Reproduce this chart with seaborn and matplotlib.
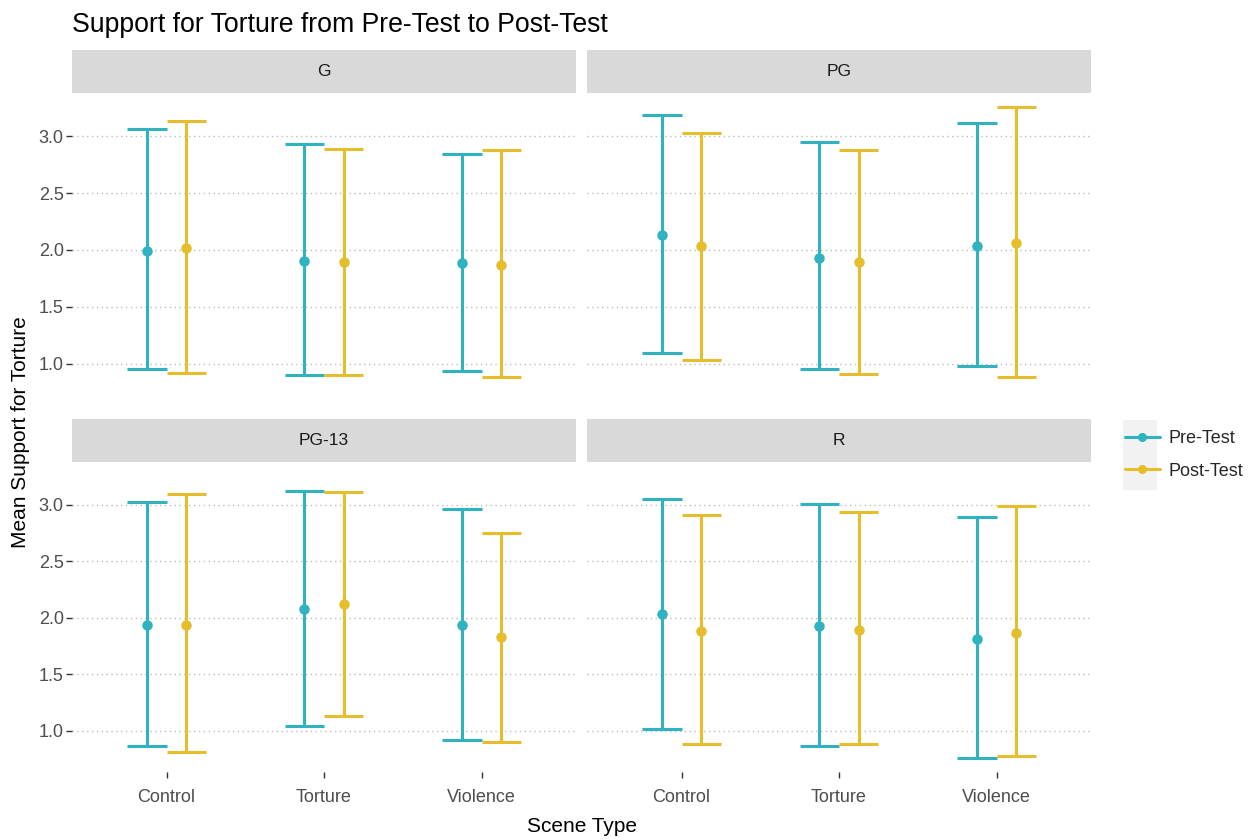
import numpy as np
import pandas as pd
import matplotlib
matplotlib.use("Agg")
import matplotlib.pyplot as plt
import seaborn as sns
from matplotlib.lines import Line2D
from matplotlib.patches import Rectangle

ratings = ["G", "PG", "PG-13", "R"]
scenes = ["Control", "Torture", "Violence"]
tests = ["Pre-Test", "Post-Test"]

pre_mean = [[1.99, 1.90, 1.88], [2.13, 1.93, 2.03], [1.94, 2.08, 1.94], [2.03, 1.93, 1.81]]
pre_low = [[0.95, 0.90, 0.935], [1.09, 0.95, 0.98], [0.866, 1.04, 0.92], [1.015, 0.865, 0.76]]
pre_high = [[3.06, 2.935, 2.84], [3.19, 2.95, 3.12], [3.03, 3.125, 2.96], [3.05, 3.005, 2.895]]
post_mean = [[2.02, 1.89, 1.87], [2.03, 1.89, 2.06], [1.94, 2.12, 1.83], [1.88, 1.895, 1.87]]
post_low = [[0.92, 0.90, 0.88], [1.035, 0.91, 0.88], [0.81, 1.13, 0.90], [0.88, 0.88, 0.78]]
post_high = [[3.13, 2.89, 2.88], [3.03, 2.88, 3.255], [3.10, 3.11, 2.755], [2.91, 2.935, 2.99]]

colors = {"Pre-Test": "#2FB3C1", "Post-Test": "#E6BE2B"}

rows = []
for ri, r in enumerate(ratings):
    for si, s in enumerate(scenes):
        rows.append((r, s, "Pre-Test", pre_mean[ri][si], pre_low[ri][si], pre_high[ri][si]))
        rows.append((r, s, "Post-Test", post_mean[ri][si], post_low[ri][si], post_high[ri][si]))
df = pd.DataFrame(rows, columns=["rating", "scene", "test", "mean", "low", "high"])

sns.set_theme(style="white")
plt.rcParams["font.family"] = ["Liberation Sans", "DejaVu Sans"]

DODGE = 0.25
CAP = 0.125


def draw(data, color=None, label=None, **kws):
    ax = plt.gca()
    for i, t in enumerate(tests):
        sub = data[data["test"] == t].set_index("scene").loc[scenes]
        x = np.arange(len(scenes)) + (i - 0.5) * DODGE
        c = colors[t]
        ax.vlines(x, sub["low"], sub["high"], color=c, lw=2.2, zorder=2)
        ax.hlines(sub["low"], x - CAP, x + CAP, color=c, lw=2.2, zorder=2)
        ax.hlines(sub["high"], x - CAP, x + CAP, color=c, lw=2.2, zorder=2)
    sns.pointplot(data=data, x="scene", y="mean", hue="test", order=scenes,
                  hue_order=tests, palette=colors, dodge=DODGE, linestyle="none",
                  errorbar=None, markers="o", markersize=5.5, ax=ax, legend=False,
                  zorder=3)


g = sns.FacetGrid(df, col="rating", col_order=ratings, col_wrap=2,
                  sharex=True, sharey=True, height=3, aspect=1.6)
g.map_dataframe(draw)
fig = g.figure
fig.set_size_inches(12.57, 8.4)
g.set_titles("")
g.set_axis_labels("", "")

W, H = 1257, 840
boxes = {
    "G": (72, 93, 504, 312),
    "PG": (587, 93, 504, 312),
    "PG-13": (72, 462, 504, 310),
    "R": (587, 462, 504, 310),
}
for ax, r in zip(g.axes.flat, ratings):
    x0, y0, w, h = boxes[r]
    ax.set_position([x0 / W, 1 - (y0 + h) / H, w / W, h / H])
    ax.set_xlim(-0.6, 2.6)
    ax.set_ylim(0.635, 3.38)
    ax.set_yticks([1.0, 1.5, 2.0, 2.5, 3.0])
    ax.set_yticklabels(["1.0", "1.5", "2.0", "2.5", "3.0"])
    ax.set_xticks(range(len(scenes)))
    ax.set_xticklabels(scenes)
    ax.set_facecolor("white")
    for sp in ax.spines.values():
        sp.set_visible(False)
    ax.yaxis.grid(True, linestyle=(0, (1, 2.5)), color="#BDBDBD", lw=1.0, zorder=0)
    ax.xaxis.grid(False)
    ax.set_axisbelow(True)
    left = r in ("G", "PG-13")
    bottom = r in ("PG-13", "R")
    ax.tick_params(axis="y", left=left, labelleft=left, length=4, width=1,
                   color="#333333", labelcolor="#4D4D4D", labelsize=13, pad=2)
    ax.tick_params(axis="x", bottom=bottom, labelbottom=bottom, length=4, width=1,
                   color="#333333", labelcolor="#4D4D4D", labelsize=13, pad=8)
    ax.set_xlabel("")
    ax.set_ylabel("")
    # strip
    sy = y0 - 43
    sax = fig.add_axes([x0 / W, 1 - (sy + 43) / H, w / W, 43 / H])
    sax.set_facecolor("#D9D9D9")
    sax.set_xticks([])
    sax.set_yticks([])
    for sp in sax.spines.values():
        sp.set_visible(False)
    sax.text(0.5, 0.5, r, ha="center", va="center", fontsize=12.5, color="#1A1A1A",
             transform=sax.transAxes)

fig.text(72 / W, 1 - 25 / H, "Support for Torture from Pre-Test to Post-Test",
         ha="left", va="center", fontsize=19.2, color="black")
fig.text(582 / W, 1 - 826 / H, "Scene Type", ha="center", va="center",
         fontsize=15, color="black")
fig.text(21 / W, 1 - 432 / H, "Mean Support for Torture", ha="center", va="center",
         rotation=90, fontsize=15, color="black")

fig.patches.append(Rectangle((1123 / W, 1 - 490 / H), 34 / W, 70 / H,
                             transform=fig.transFigure, facecolor="#F2F2F2",
                             edgecolor="none", zorder=0))
handles = [Line2D([0], [0], color=colors[t], lw=2.2, marker="o", markersize=5.5)
           for t in tests]
fig.legend(handles, tests, loc="center left",
           bbox_to_anchor=(1118 / W, 1 - 455 / H), frameon=False,
           fontsize=13, handlelength=1.9, handletextpad=0.5, labelspacing=0.85,
           borderaxespad=0)

fig.savefig("out.png", dpi=100, facecolor="white")
